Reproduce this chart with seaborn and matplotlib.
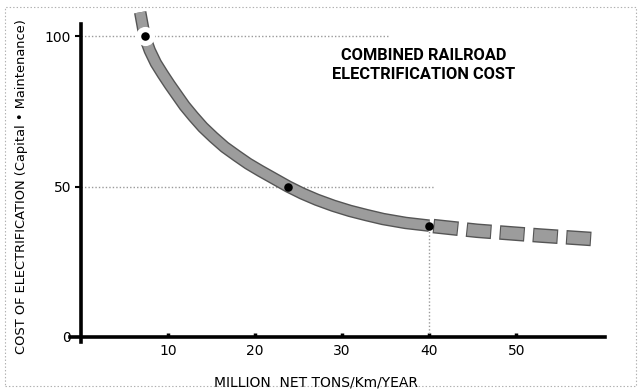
import matplotlib
matplotlib.use("Agg")
import matplotlib.pyplot as plt
import matplotlib.patheffects as pe
from matplotlib.patches import Rectangle
import pandas as pd
import seaborn as sns

# Cost curve, solid part (traffic in million net tons/km/year, relative cost)
solid_traffic = [6.8, 7.3, 7.9, 8.6, 9.4, 10.2, 11.0, 11.9, 12.9, 14.0, 15.2, 16.5,
                 17.9, 19.2, 20.6, 22.2, 23.8, 25.4, 27.1, 29.0, 30.9, 32.8, 34.7, 37.3, 40.0]
solid_cost = [107.9, 100.0, 95.2, 91.0, 87.3, 83.8, 80.5, 76.8, 73.3, 69.7, 66.4, 63.1,
              60.2, 57.6, 55.2, 52.6, 50.0, 47.7, 45.6, 43.6, 41.9, 40.5, 39.2, 37.9, 37.0]

# Extrapolated part, drawn dashed
dash_traffic = [40.0, 45.5, 52.8, 59.0]
dash_cost = [37.0, 35.3, 33.7, 32.5]

# Marked reference points on the curve
point_traffic = [7.3, 23.8, 40.0]
point_cost = [100.0, 50.0, 37.0]

x_ticks = [10, 20, 30, 40, 50]
y_ticks = [0, 50, 100]

title_text = "COMBINED RAILROAD\nELECTRIFICATION COST"
x_label = "MILLION  NET TONS/Km/YEAR"
y_label = "COST OF ELECTRIFICATION (Capital \u2022 Maintenance)"

sns.set_theme(style="white")
plt.rcParams["font.family"] = ["DejaVu Sans"]
plt.rcParams["lines.scale_dashes"] = False

fig = plt.figure(figsize=(6.4, 3.89), dpi=100)
fig.patch.set_facecolor("white")
ax = fig.add_axes([81 / 640, 1 - 337 / 389, (605 - 81) / 640, (337 - 24) / 389])
ax.set_facecolor("white")
ax.set_xlim(0, 60.2)
ax.set_ylim(0, 104)

# dotted guide lines
guide = dict(color="#9a9a9a", lw=1.0, ls=(0, (1, 1.5)), zorder=1)
ax.plot([0, 35.5], [100, 100], **guide)
ax.plot([0, 40.5], [50, 50], **guide)
ax.plot([40, 40], [0, 37], **guide)

band_edge = "#555555"
band_fill = "#9c9c9c"

solid = pd.DataFrame({"traffic": solid_traffic, "cost": solid_cost})
sns.lineplot(data=solid, x="traffic", y="cost", sort=False, ax=ax,
             color=band_fill, lw=7.0, solid_capstyle="butt", solid_joinstyle="round",
             zorder=3, clip_on=False,
             path_effects=[pe.Stroke(linewidth=9.0, foreground=band_edge), pe.Normal()])

# dashed extension: dark dashes underneath, slightly shorter light dashes on top
dashed = pd.DataFrame({"traffic": dash_traffic, "cost": dash_cost})
on, off, start, inset = 18.0, 6.0, 3.0, 0.8
period = on + off
sns.lineplot(data=dashed, x="traffic", y="cost", sort=False, ax=ax,
             color=band_edge, lw=10.5, zorder=3, clip_on=False)
ax.lines[-1].set_linestyle((period - start, (on, off)))
ax.lines[-1].set_dash_capstyle("butt")
sns.lineplot(data=dashed, x="traffic", y="cost", sort=False, ax=ax,
             color=band_fill, lw=8.5, zorder=3, clip_on=False)
ax.lines[-1].set_linestyle((period - start - inset, (on - 2 * inset, off + 2 * inset)))
ax.lines[-1].set_dash_capstyle("butt")

# white gap around the top point, then the dots
ax.scatter(point_traffic[:1], point_cost[:1], s=190, color="white", zorder=4, linewidths=0)
pts = pd.DataFrame({"traffic": point_traffic, "cost": point_cost})
sns.scatterplot(data=pts, x="traffic", y="cost", ax=ax, color="black", s=38,
                linewidth=0, zorder=5)

ax.set_xlabel("")
ax.set_ylabel("")
ax.set_xticks(x_ticks)
ax.set_xticklabels([str(v) for v in x_ticks])
ax.set_yticks(y_ticks)
ax.set_yticklabels([str(v) for v in y_ticks])
ax.tick_params(axis="x", direction="in", length=3, width=2.5, pad=5,
               labelsize=10, colors="black", bottom=True)
ax.tick_params(axis="y", direction="out", length=4, width=1.5, pad=3,
               labelsize=10, colors="black", left=True)

for side in ("top", "right"):
    ax.spines[side].set_visible(False)
for side in ("left", "bottom"):
    ax.spines[side].set_color("black")
    ax.spines[side].set_linewidth(2.6)
ax.spines["left"].set_bounds(-1.5, 104)
ax.spines["bottom"].set_bounds(-1.3, 60.2)
ax.spines["left"].set_clip_on(False)
ax.spines["bottom"].set_clip_on(False)

fig.text(424 / 640, 1 - 65 / 389, title_text, ha="center", va="center",
         fontsize=11.8, fontweight="bold", linespacing=1.4, color="black",
         family=["Roboto", "DejaVu Sans"])
fig.text(316 / 640, 1 - 382 / 389, x_label, ha="center", va="center",
         fontsize=10, color="black")
fig.text(22 / 640, 1 - 187 / 389, y_label, ha="center", va="center",
         rotation=90, fontsize=9.4, color="black")

# thin frame around the sheet
fig.add_artist(Rectangle((5 / 640, 3 / 389), 631 / 640, 379 / 389,
                         transform=fig.transFigure, fill=False,
                         edgecolor="#b0b0b0", lw=0.8, ls=(0, (1, 1.5))))

fig.savefig("out.png", dpi=100)
